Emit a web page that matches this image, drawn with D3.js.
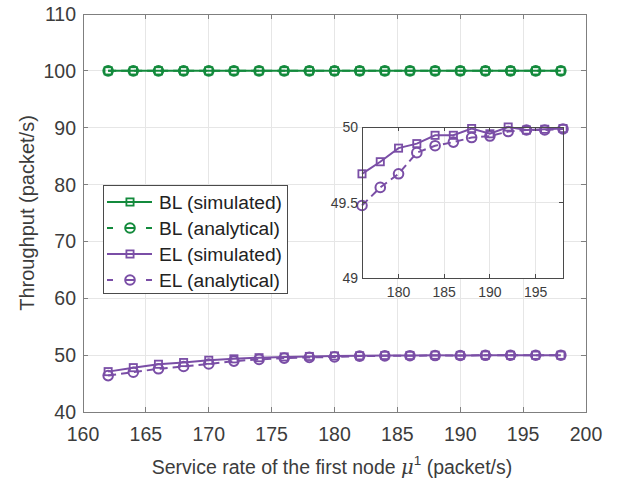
<!DOCTYPE html>
<html>
<head>
<meta charset="utf-8">
<script src="https://cdn.jsdelivr.net/npm/d3@7"></script>
<style>
  body { margin: 0; background: #fff; }
  svg { font-family: "Liberation Sans", Arial, sans-serif; }
</style>
</head>
<body>
<div id="chart"></div>
<script>
// service rate of the first node
const rates = [162, 164, 166, 168, 170, 172, 174, 176, 178, 180, 182, 184, 186, 188, 190, 192, 194, 196, 198];
const blSimulated  = [100, 100, 100, 100, 100, 100, 100, 100, 100, 100, 100, 100, 100, 100, 100, 100, 100, 100, 100];
const blAnalytical = [100, 100, 100, 100, 100, 100, 100, 100, 100, 100, 100, 100, 100, 100, 100, 100, 100, 100, 100];
const elSimulated  = [47.1, 47.8, 48.4, 48.7, 49.1, 49.35, 49.55, 49.69, 49.77, 49.86, 49.89, 49.945, 49.945, 49.99, 49.955, 50.0, 49.98, 49.985, 49.99];
const elAnalytical = [46.4, 47.0, 47.6, 48.0, 48.45, 48.95, 49.25, 49.48, 49.60, 49.69, 49.83, 49.876, 49.90, 49.93, 49.94, 49.97, 49.98, 49.98, 49.987];

const xTicks = [160, 165, 170, 175, 180, 185, 190, 195, 200];
const yTicks = [40, 50, 60, 70, 80, 90, 100, 110];
const insetXTicks = [180, 185, 190, 195];
const insetYTicks = [49, 49.5, 50];

const green = "#138a3c", purple = "#7a4ea6";
const axisColor = "#7f7f7f", textColor = "#3c3c3c", gridColor = "#e6e6e6";

const series = [
  {name: "BL (simulated)",  values: blSimulated,  color: green,  marker: "square", dashed: false},
  {name: "BL (analytical)", values: blAnalytical, color: green,  marker: "circle", dashed: true},
  {name: "EL (simulated)",  values: elSimulated,  color: purple, marker: "square", dashed: false},
  {name: "EL (analytical)", values: elAnalytical, color: purple, marker: "circle", dashed: true}
];

const svg = d3.select("#chart").append("svg")
    .attr("width", 631)
    .attr("height", 480);

const x = d3.scaleLinear().domain([160, 200]).range([83, 586]);
const y = d3.scaleLinear().domain([40, 110]).range([412, 14]);

// white background + grid lines
function drawGrid(g, xs, ys, xt, yt) {
  const [x0, x1] = xs.range(), [y0, y1] = ys.range();
  g.append("rect")
    .attr("x", x0).attr("y", y1).attr("width", x1 - x0).attr("height", y0 - y1)
    .attr("fill", "#fff");
  g.selectAll(".gx").data(xt).join("line")
    .attr("x1", d => xs(d)).attr("x2", d => xs(d)).attr("y1", y0).attr("y2", y1)
    .attr("stroke", gridColor).attr("shape-rendering", "crispEdges");
  g.selectAll(".gy").data(yt).join("line")
    .attr("y1", d => ys(d)).attr("y2", d => ys(d)).attr("x1", x0).attr("x2", x1)
    .attr("stroke", gridColor).attr("shape-rendering", "crispEdges");
}

// box, inward ticks on all four sides, tick labels
function drawBox(g, xs, ys, xt, yt, opts) {
  const [x0, x1] = xs.range(), [y0, y1] = ys.range();
  const t = opts.tick;
  g.append("rect")
    .attr("x", x0).attr("y", y1).attr("width", x1 - x0).attr("height", y0 - y1)
    .attr("fill", "none").attr("stroke", opts.color).attr("shape-rendering", "crispEdges");
  xt.forEach(d => {
    g.append("line").attr("x1", xs(d)).attr("x2", xs(d)).attr("y1", y0).attr("y2", y0 - t)
      .attr("stroke", opts.color).attr("shape-rendering", "crispEdges");
    g.append("line").attr("x1", xs(d)).attr("x2", xs(d)).attr("y1", y1).attr("y2", y1 + t)
      .attr("stroke", opts.color).attr("shape-rendering", "crispEdges");
  });
  yt.forEach(d => {
    g.append("line").attr("y1", ys(d)).attr("y2", ys(d)).attr("x1", x0).attr("x2", x0 + t)
      .attr("stroke", opts.color).attr("shape-rendering", "crispEdges");
    g.append("line").attr("y1", ys(d)).attr("y2", ys(d)).attr("x1", x1).attr("x2", x1 - t)
      .attr("stroke", opts.color).attr("shape-rendering", "crispEdges");
  });
  g.selectAll(".xl").data(xt).join("text")
    .attr("x", d => xs(d)).attr("y", y0 + opts.xLabelDy)
    .attr("text-anchor", "middle").attr("font-size", opts.fontSize).attr("fill", textColor)
    .text(d => d);
  g.selectAll(".yl").data(yt).join("text")
    .attr("x", x0 - opts.yLabelDx).attr("y", d => ys(d)).attr("dy", "0.36em")
    .attr("text-anchor", "end").attr("font-size", opts.fontSize).attr("fill", textColor)
    .text(d => d);
}

function drawSeries(g, xs, ys, s, filter) {
  const pts = rates.map((r, i) => [r, s.values[i]]).filter(p => filter(p[0]));
  const line = d3.line().x(d => xs(d[0])).y(d => ys(d[1]));
  g.append("path").datum(pts)
    .attr("d", line).attr("fill", "none")
    .attr("stroke", s.color).attr("stroke-width", 2)
    .attr("stroke-dasharray", s.dashed ? "8,5" : null);
  drawMarkers(g, pts.map(p => [xs(p[0]), ys(p[1])]), s);
}

function drawMarkers(g, coords, s) {
  if (s.marker === "square") {
    g.selectAll(null).data(coords).join("rect")
      .attr("x", d => d[0] - 3.6).attr("y", d => d[1] - 3.6)
      .attr("width", 7.2).attr("height", 7.2)
      .attr("fill", "none").attr("stroke", s.color).attr("stroke-width", 1.8);
  } else {
    g.selectAll(null).data(coords).join("circle")
      .attr("cx", d => d[0]).attr("cy", d => d[1]).attr("r", 4.8)
      .attr("fill", "none").attr("stroke", s.color).attr("stroke-width", 2);
  }
}

// main axes
const main = svg.append("g");
drawGrid(main, x, y, xTicks, yTicks);
series.forEach(s => drawSeries(main, x, y, s, () => true));
drawBox(main, x, y, xTicks, yTicks, {color: axisColor, tick: 5, fontSize: 19.5, xLabelDy: 29, yLabelDx: 7});

// axis titles
const xTitle = svg.append("text")
    .attr("x", 332).attr("y", 474)
    .attr("text-anchor", "middle").attr("font-size", 19.5).attr("fill", textColor);
xTitle.append("tspan").text("Service rate of the first node ");
xTitle.append("tspan").attr("font-style", "italic").attr("font-family", "DejaVu Serif").text("μ");
xTitle.append("tspan").attr("font-size", 13.5).attr("dy", -9).text("1");
xTitle.append("tspan").attr("dy", 9).text(" (packet/s)");

svg.append("text")
    .attr("transform", "translate(34,213) rotate(-90)")
    .attr("text-anchor", "middle").attr("font-size", 20).attr("fill", textColor)
    .text("Throughput (packet/s)");

// legend
const legend = svg.append("g");
legend.append("rect")
    .attr("x", 103).attr("y", 185).attr("width", 184).attr("height", 108)
    .attr("fill", "#fff").attr("stroke", "#4a4a4a").attr("shape-rendering", "crispEdges");
series.forEach((s, i) => {
  const ly = 202 + i * 26;
  legend.append("line")
    .attr("x1", 107).attr("x2", 152).attr("y1", ly).attr("y2", ly)
    .attr("stroke", s.color).attr("stroke-width", 2)
    .attr("stroke-dasharray", s.dashed ? "6,13,8,12,6" : null);
  drawMarkers(legend, [[130, ly]], s);
  legend.append("text")
    .attr("x", 159).attr("y", ly).attr("dy", "0.36em")
    .attr("font-size", 19.2).attr("fill", "#222")
    .text(s.name);
});

// inset (zoom on EL curves)
const ix = d3.scaleLinear().domain([176, 198]).range([362, 563]);
const iy = d3.scaleLinear().domain([49, 50]).range([278, 127]);
const inset = svg.append("g");
drawGrid(inset, ix, iy, insetXTicks, insetYTicks);
series.filter(s => s.color === purple)
  .forEach(s => drawSeries(inset, ix, iy, s, r => r >= 176 && r <= 198));
drawBox(inset, ix, iy, insetXTicks, insetYTicks, {color: "#4a4a4a", tick: 4, fontSize: 14, xLabelDy: 19, yLabelDx: 4});
</script>
</body>
</html>
